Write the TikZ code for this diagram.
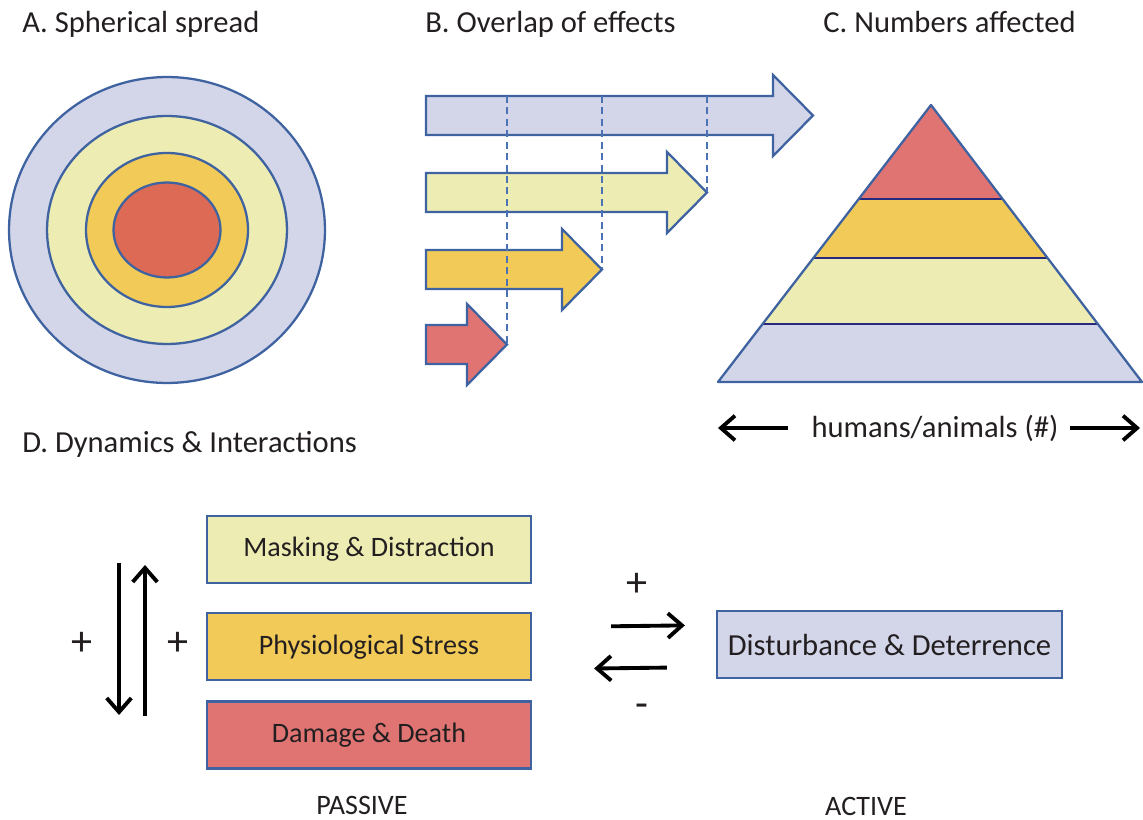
\documentclass[tikz,border=0pt]{standalone}
\usepackage{fontspec}
\setmainfont{Carlito}
\usetikzlibrary{positioning, arrows.meta}

\definecolor{lavfill}{HTML}{D3D5E9}
\definecolor{palefill}{HTML}{EDEDB3}
\definecolor{goldfill}{HTML}{F2CA58}
\definecolor{redfill}{HTML}{E07472}
\definecolor{circred}{HTML}{DD6A55}
\definecolor{edgeblue}{HTML}{3E63A0}
\definecolor{dashblue}{HTML}{4A72B5}
\definecolor{navy}{HTML}{27297F}
\definecolor{ink}{HTML}{231F20}

\begin{document}
\begin{tikzpicture}
  [x=0.02cm,y=-0.02cm,
   every node/.style={font=\fontsize{16}{19}\selectfont,text=ink},
   big/.style={font=\fontsize{17.4}{21}\selectfont},
   title/.style={big,anchor=base west,inner sep=0pt},
   sign/.style={font=\fontsize{24}{28}\selectfont},
   ring/.style={draw=edgeblue,line width=1.3pt},
   box/.style={rectangle,draw=edgeblue,line width=1.3pt,minimum width=6.48cm,minimum height=1.34cm,inner sep=0pt},
   blk/.style={-{Straight Barb[length=8pt,width=14pt]},line width=2.2pt,black}]

  \useasboundingbox (0,0) rectangle (1143,820);

  \node[title] (ta) at (22,33) {A. Spherical spread};
  \node[title] (tb) at (425,33) {B. Overlap of effects};
  \node[title] (tc) at (823,33) {C. Numbers affected};
  \node[title] (td) at (22,453) {D. Dynamics \& Interactions};

  \foreach \rx/\ry/\col in {3.16/3.06/lavfill,2.40/2.28/palefill,1.62/1.54/goldfill,1.07/0.95/circred}
    \draw[ring,fill=\col] (167,230) ellipse [x radius=\rx cm, y radius=\ry cm];

  \foreach \t/\b/\col in {96/773/lavfill,173/667/palefill,250/562/goldfill,325/467/redfill}
    \draw[ring,fill=\col,line join=miter] (426,\t) -- (\b,\t) -- (\b,\t-21) -- (\b+40,\t+19.5)
      -- (\b,\t+60) -- (\b,\t+39) -- (426,\t+39) -- cycle;
  \foreach \x/\y in {507/344.5,602/269.5,707/192.5}
    \draw[dashblue,line width=1pt,dash pattern=on 4pt off 2.5pt] (\x,96) -- (\x,\y);

  \begin{scope}
    \clip (931,105) -- (1142,382) -- (718,382) -- cycle;
    \fill[lavfill] (700,324) rectangle (1150,390);
    \fill[palefill] (700,258) rectangle (1150,324);
    \fill[goldfill] (700,199) rectangle (1150,258);
    \fill[redfill] (700,100) rectangle (1150,199);
    \foreach \y in {199,258,324}
      \draw[navy,line width=1.6pt] (700,\y) -- (1150,\y);
  \end{scope}
  \draw[ring,line join=round] (931,105) -- (1142,382) -- (718,382) -- cycle;

  \node[big,inner sep=0pt] (hum) at (935,428) {humans/animals (\#)};
  \coordinate (hl) at (718,428);
  \coordinate (hr) at (1140,428);
  \draw[blk,shorten <=0.46cm] (hum.west) -- (hl);
  \draw[blk,shorten <=0.22cm] (hum.east) -- (hr);

  \node[box,fill=palefill] (mask) at (369,549.5) {Masking \& Distraction};
  \node[box,fill=goldfill] (phys) [below=0.56cm of mask] {Physiological Stress};
  \node[box,fill=redfill] (dam) [below=0.38cm of phys] {Damage \& Death};
  \node[box,big,fill=lavfill,minimum width=6.9cm] (dist) at (889.5,644.5) {Disturbance \& Deterrence};

  \coordinate (dtop) at (119,563);
  \coordinate (dbot) at (119,715);
  \coordinate (utop) at (145,565);
  \coordinate (ubot) at (145,716);
  \draw[blk] (dtop) -- (dbot);
  \draw[blk] (ubot) -- (utop);
  \node[sign] (pl) at (82,644) {+};
  \node[sign] (pr) at (178,644) {+};

  \draw[blk,shorten <=1.58cm,shorten >=0.62cm] ([yshift=0.39cm]phys.east) -- ([yshift=0.39cm]dist.west);
  \draw[blk,shorten <=0.98cm,shorten >=1.24cm] ([yshift=-0.45cm]dist.west) -- ([yshift=-0.45cm]phys.east);
  \node[sign] (pa) at (637,585) {+};
  \node[sign] (mi) at (642,711) {-};

  \node[anchor=base] (pas) at (362,814) {PASSIVE};
  \node[anchor=base] (act) at (866,815) {ACTIVE};

\end{tikzpicture}
\end{document}
